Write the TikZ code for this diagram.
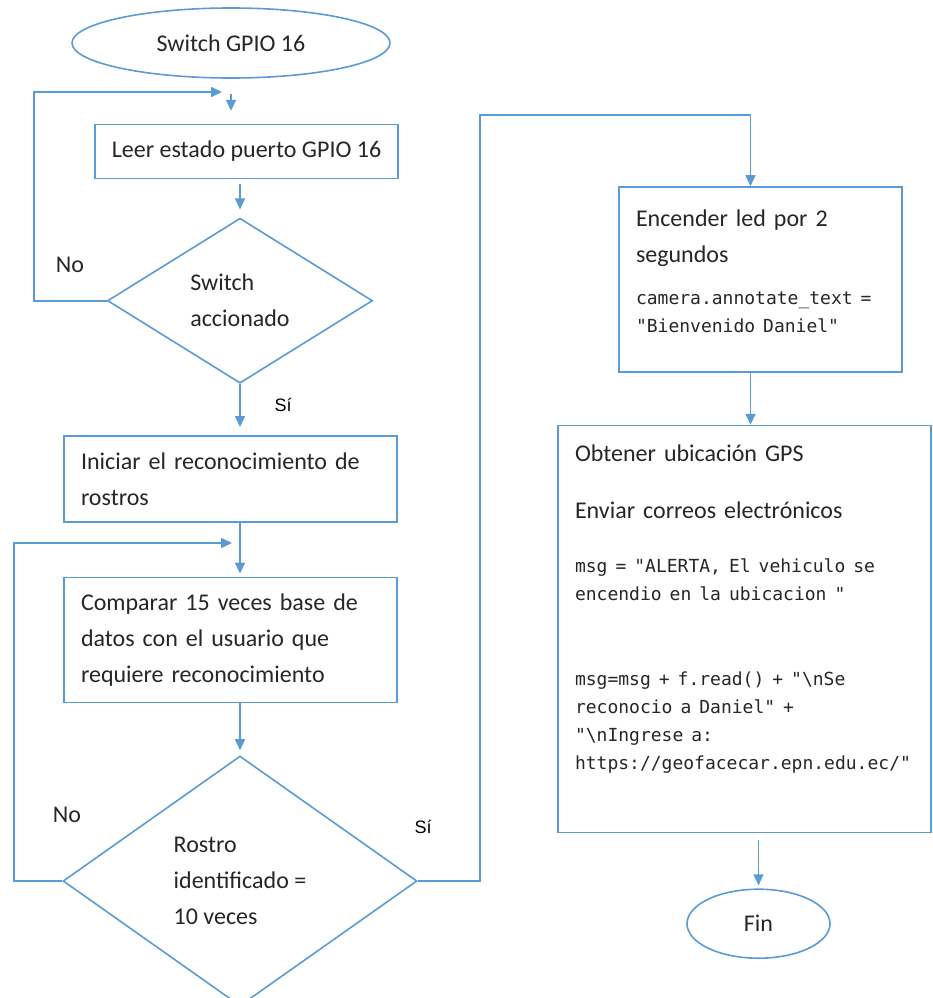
\documentclass[tikz,border=0pt]{standalone}
\usepackage{fontspec}
\setmainfont{Carlito}
\newfontfamily\codefont{DejaVu Sans Mono}
\newfontfamily\labelfont{Liberation Sans}
\usepackage{xcolor}
\usepackage{tikz}
\usetikzlibrary{shapes.geometric,arrows.meta,positioning}
\definecolor{flowblue}{RGB}{91,155,213}
\definecolor{flowtext}{RGB}{38,38,38}
\newcommand{\codetext}{\codefont\fontsize{18}{28}\selectfont}

\begin{document}
\begin{tikzpicture}[
    x=1pt, y=-1pt,
    terminal/.style={ellipse, draw=flowblue, line width=1.6pt, inner sep=0pt, text=flowtext, font=\fontsize{24}{36}\selectfont},
    process/.style={rectangle, draw=flowblue, line width=1.6pt, inner xsep=17pt, inner ysep=0pt, align=left, text=flowtext, font=\fontsize{24}{36}\selectfont},
    decision/.style={diamond, draw=flowblue, line width=1.6pt, inner sep=0pt, align=left, text=flowtext, font=\fontsize{24}{36}\selectfont},
    arrow/.style={-{Triangle[length=11pt,width=10pt]}, draw=flowblue, line width=1.6pt},
    nolabel/.style={text=flowtext, font=\fontsize{24}{36}\selectfont},
    silabel/.style={text=black, font=\labelfont\fontsize{18}{22}\selectfont}
]
\useasboundingbox (0,0) rectangle (933,998);

\node[terminal, minimum width=318pt, minimum height=70pt] (start) at (231,43) {Switch GPIO 16};
\node[process, below=45pt of start, xshift=15.5pt, minimum width=301pt, minimum height=54pt, align=center] (leer) {Leer estado puerto GPIO 16};
\node[decision, below=38pt of leer, xshift=-6.5pt, aspect=1.6, minimum width=265pt, minimum height=165pt] (sw) {Switch\\accionado};
\node[process, below=51pt of sw, xshift=-9.5pt, text width=299pt, minimum height=86pt] (iniciar) {Iniciar el reconocimiento de\\ rostros};
\node[process, below=54pt of iniciar, text width=299pt, minimum height=125pt] (comparar) {Comparar 15 veces base de\\ datos con el usuario que\\ requiere reconocimiento};
\node[decision, below=52pt of comparar, xshift=9.5pt, aspect=1.42, minimum width=354pt, minimum height=250pt] (rostro) {Rostro\\identificado =\\10 veces};

\node[process, text width=249pt, minimum height=185pt] (encender) at (760.5,279.5) {{Encender led por 2\\ segundos\par}
\vspace{14pt}
{\codetext camera.annotate\_text =\\ "Bienvenido Daniel"\par}
\vspace*{17pt}};
\node[process, below=52pt of encender, xshift=-16pt, text width=339pt, minimum height=407pt] (obtener) {{Obtener ubicación GPS\\[21pt] Enviar correos electrónicos\par}
\vspace{26pt}
{\codetext msg = "ALERTA, El vehiculo se\\ encendio en la ubicacion "\par}
\vspace{57pt}
{\codetext msg=msg + f.read() + "\textbackslash nSe\\ reconocio a Daniel" +\\ "\textbackslash nIngrese a:\\ https://geofacecar.epn.edu.ec/"\par}
\vspace*{40pt}};
\node[terminal, below=55pt of obtener, xshift=14pt, minimum width=143pt, minimum height=69pt] (fin) {Fin};

\node[nolabel] (no1) at (70,265) {No};
\node[silabel] (si1) at (283,405) {Sí};
\node[nolabel] (no2) at (67,815) {No};
\node[silabel] (si2) at (423,827) {Sí};

\coordinate (back1) at (222,92);
\coordinate (back2) at (232,543);
\coordinate (turn) at (480,115);

\draw[arrow, shorten <=15pt, shorten >=13pt] (start.south) -- (start.south |- leer.north);
\draw[arrow, shorten <=5pt, shorten >=8pt] (leer.south -| sw.north) -- (sw.north);
\draw[arrow, shorten >=8pt] (sw.south) -- (sw.south |- iniciar.north);
\draw[arrow, shorten >=3pt] (iniciar.south -| rostro.north) -- (comparar.north -| rostro.north);
\draw[arrow, shorten >=5pt] (comparar.south -| rostro.north) -- (rostro.north);
\draw[arrow] (sw.west) -- ++(-73,0) |- (back1);
\draw[arrow] (rostro.west) -- ++(-48,0) |- (back2);
\draw[arrow] (rostro.east) -| (turn) -| ([xshift=-10pt]encender.north);
\draw[arrow] ([xshift=-10pt]encender.south) -- ([xshift=-10pt]encender.south |- obtener.north);
\draw[arrow, shorten <=7pt, shorten >=3pt] (obtener.south -| fin.north) -- (fin.north);
\end{tikzpicture}
\end{document}
